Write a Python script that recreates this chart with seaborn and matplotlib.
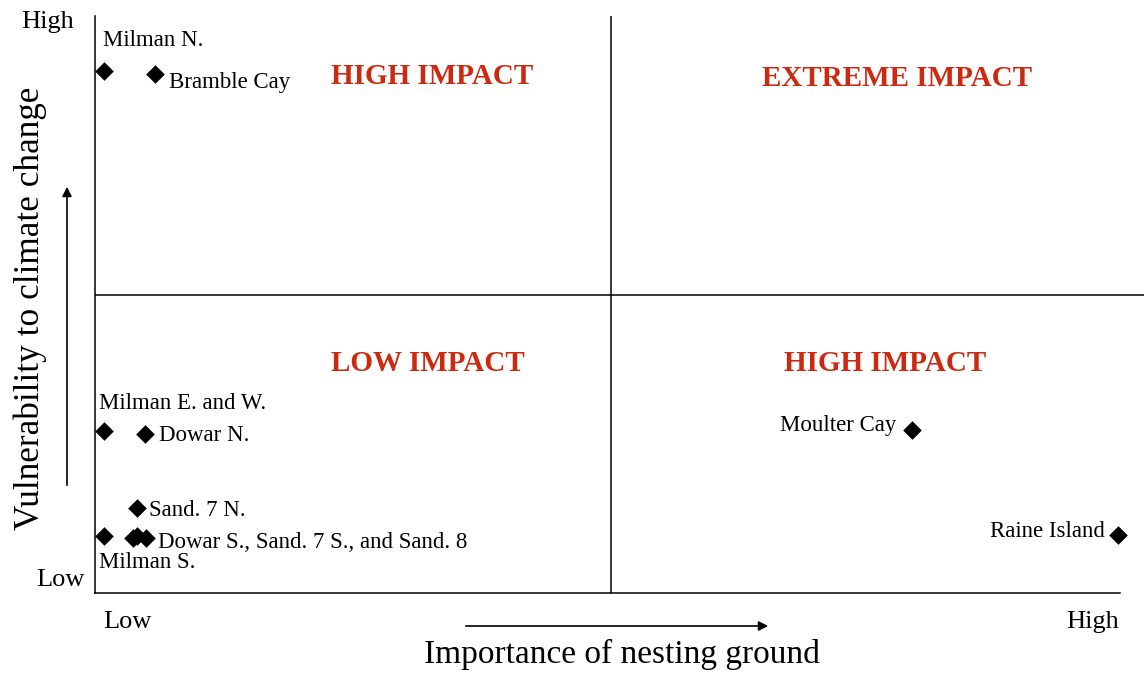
import matplotlib
matplotlib.use("Agg")
import pandas as pd
import numpy as np
import matplotlib.pyplot as plt
import seaborn as sns

sns.set_style("white")
plt.rcParams['font.family'] = ['Liberation Serif', 'DejaVu Serif']
plt.rcParams['text.color'] = 'black'

# nesting sites: importance (x, 0-10) vs vulnerability (y, 0-10)
sites = ['Milman N.', 'Bramble Cay', 'Milman E. and W.', 'Dowar N.', 'Sand. 7 N.',
         'Milman S.', 'Dowar S.', 'Sand. 7 S.', 'Sand. 8', 'Moulter Cay', 'Raine Island']
importance = [0.09, 0.57, 0.09, 0.48, 0.40, 0.09, 0.36, 0.40, 0.49, 7.79, 9.75]
vulnerability = [9.05, 9.00, 2.81, 2.76, 1.47, 0.99, 0.95, 0.98, 0.95, 2.82, 1.00]

# text labels (one label covers three clustered sites)
label_text = ['Milman N.', 'Bramble Cay', 'Milman E. and W.', 'Dowar N.', 'Sand. 7 N.',
              'Milman S.', 'Dowar S., Sand. 7 S., and Sand. 8', 'Moulter Cay', 'Raine Island']
label_site = ['Milman N.', 'Bramble Cay', 'Milman E. and W.', 'Dowar N.', 'Sand. 7 N.',
              'Milman S.', 'Sand. 8', 'Moulter Cay', 'Raine Island']

quadrants = ['HIGH IMPACT', 'EXTREME IMPACT', 'LOW IMPACT', 'HIGH IMPACT']
x_split = 4.92
y_split = 5.16

df = pd.DataFrame({'site': sites, 'importance': importance, 'vulnerability': vulnerability})

fig = plt.figure(figsize=(11.44, 6.75), dpi=100)
ax = fig.add_axes([95 / 1144, 82 / 675, 1049 / 1144, 577 / 675])

sns.scatterplot(data=df, x='importance', y='vulnerability', marker='D', s=90,
                color='black', edgecolor='black', linewidth=0, ax=ax, zorder=3)

ax.set_xlim(0, 10)
ax.set_ylim(0, 10)
ax.set_xticks([])
ax.set_yticks([])
ax.set_xlabel('')
ax.set_ylabel('')
for side in ['top', 'right']:
    ax.spines[side].set_visible(False)
ax.spines['left'].set_color('black')
ax.spines['bottom'].set_color('black')
ax.spines['bottom'].set_bounds(0, 9.77)
ax.spines['left'].set_linewidth(1.1)
ax.spines['bottom'].set_linewidth(1.1)

# quadrant dividers
ax.axvline(x_split, color='black', lw=1.1)
ax.axhline(y_split, color='black', lw=1.1)

# offsets in points and alignment per label
offsets = [(-0.7, 22), (10, -6), (-3.6, 19.4), (10, -1.4), (8.6, -1.4),
           (-3.6, -19.4), (8, -3), (-11.5, 3.6), (-9.4, 2.9)]
aligns = ['left', 'left', 'left', 'left', 'left', 'left', 'left', 'right', 'right']
for txt, site, off, ha in zip(label_text, label_site, offsets, aligns):
    row = df[df.site == site].iloc[0]
    ax.annotate(txt, (row.importance, row.vulnerability), xytext=off,
                textcoords='offset points', ha=ha, va='center', fontsize=16.5)

# quadrant titles
qpos = [(3.21, 8.96), (7.65, 8.91), (3.17, 3.97), (7.53, 3.97)]
for q, (qx, qy) in zip(quadrants, qpos):
    ax.text(qx, qy, q, color='#CC2A10', fontsize=21, fontweight='bold',
            ha='center', va='center')

# axis end labels
fig.text(48 / 1144, 1 - 22 / 675, 'High', fontsize=19, ha='center', va='center')
fig.text(60 / 1144, 1 - 580 / 675, 'Low', fontsize=19, ha='center', va='center')
fig.text(127 / 1144, 1 - 622 / 675, 'Low', fontsize=19, ha='center', va='center')
fig.text(1093 / 1144, 1 - 622 / 675, 'High', fontsize=19, ha='center', va='center')

# axis titles
fig.text(622 / 1144, 1 - 654 / 675, 'Importance of nesting ground', fontsize=24,
         ha='center', va='center')
fig.text(30 / 1144, 1 - 308 / 675, 'Vulnerability to climate change', fontsize=25.4,
         ha='center', va='center', rotation=90)

# direction arrows
fig.patches.append(matplotlib.patches.FancyArrowPatch(
    (463 / 1144, 1 - 626 / 675), (771 / 1144, 1 - 626 / 675),
    transform=fig.transFigure, arrowstyle='-|>', mutation_scale=14, lw=1.2, color='black'))
fig.patches.append(matplotlib.patches.FancyArrowPatch(
    (67 / 1144, 1 - 488 / 675), (67 / 1144, 1 - 184 / 675),
    transform=fig.transFigure, arrowstyle='-|>', mutation_scale=14, lw=1.2, color='black'))

fig.savefig('out.png', dpi=100, facecolor='white')
